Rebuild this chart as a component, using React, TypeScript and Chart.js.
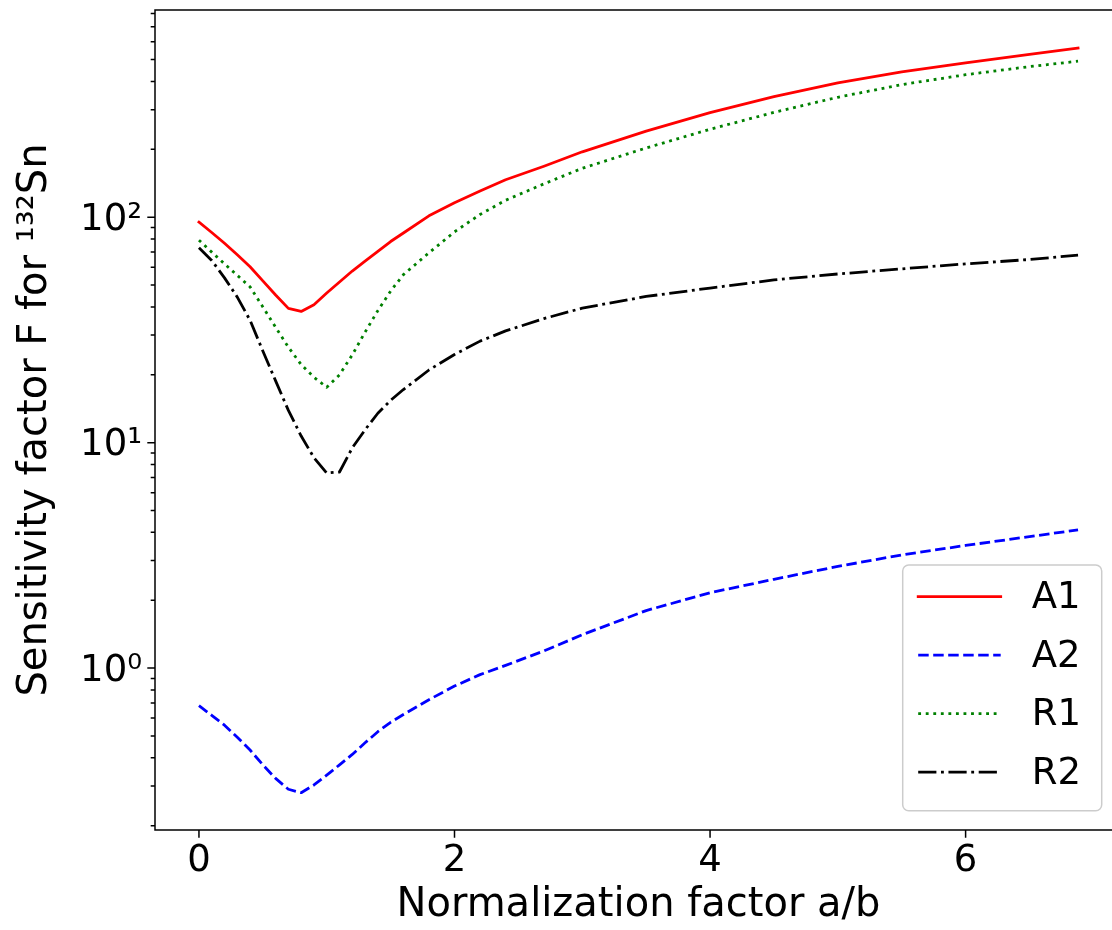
import React, { useEffect, useRef } from "react";
import { Chart, registerables } from "chart.js";

Chart.register(...registerables);

// ---------- data ----------
const xValues = [
  0, 0.1, 0.2, 0.3, 0.4, 0.5, 0.6, 0.7, 0.8, 0.9, 1.0, 1.1, 1.2, 1.3, 1.4, 1.5,
  1.6, 1.8, 2.0, 2.2, 2.4, 2.7, 3.0, 3.5, 4.0, 4.5, 5.0, 5.5, 6.0, 6.5, 6.88,
];

const seriesA1 = [
  95.1, 85.5, 76.6, 68.1, 60.3, 52.2, 45.2, 39.4, 38.2, 40.9, 46.1, 51.6, 57.7, 63.8, 70.5, 78.0,
  85.1, 101.4, 115.9, 130.6, 146.6, 168.3, 195.0, 241.0, 291.1, 342.8, 394.5, 441.6, 484.2, 527.2, 562.3,
];

const seriesA2 = [
  0.681, 0.617, 0.558, 0.493, 0.433, 0.372, 0.324, 0.29, 0.28, 0.303, 0.335, 0.372, 0.414, 0.466, 0.522, 0.575,
  0.622, 0.724, 0.832, 0.935, 1.028, 1.191, 1.406, 1.799, 2.158, 2.477, 2.825, 3.177, 3.499, 3.828, 4.102,
];

const seriesR1 = [
  79.1, 70.0, 62.1, 55.2, 49.1, 40.0, 32.5, 26.5, 22.2, 19.5, 17.6, 20.0, 24.5, 30.9, 38.5, 47.0,
  55.6, 69.5, 86.1, 102.8, 118.9, 140.6, 164.8, 202.8, 245.5, 291.7, 340.4, 387.3, 428.5, 465.6, 492.0,
];

const seriesR2 = [
  73.1, 64.3, 53.8, 44.2, 34.9, 25.5, 18.8, 13.9, 10.7, 8.57, 7.33, 7.41, 9.48, 11.4, 13.5, 15.4,
  17.2, 21.0, 24.6, 28.2, 31.3, 35.5, 39.5, 44.5, 48.5, 52.7, 56.0, 59.0, 62.1, 64.9, 67.9,
];

const seriesLabels = ["A1", "A2", "R1", "R2"];

const xTickValues = [0, 2, 4, 6];
const xTickLabels = ["0", "2", "4", "6"];
const yMajorTicks = [1, 10, 100];
const yTickLabels = ["10\u2070", "10\u00B9", "10\u00B2"];

const xAxisTitle = "Normalization factor a/b";
const yAxisTitle = "Sensitivity factor F for \u00B9\u00B3\u00B2Sn";

// ---------- axis ranges ----------
const X_MIN = -0.344;
const X_MAX = 7.224;
const Y_MIN = 0.1913;
const Y_MAX = 830;

const FONT = "DejaVu Sans";

function buildLogTicks(): number[] {
  const vals: number[] = [];
  for (let d = -1; d <= 2; d++) {
    for (let m = 1; m <= 9; m++) {
      const v = Number((m * Math.pow(10, d)).toPrecision(3));
      if (v >= Y_MIN && v <= Y_MAX) vals.push(v);
    }
  }
  return vals;
}

const yTickValues = buildLogTicks();

const framePlugin = {
  id: "frameAndTicks",
  afterDraw(chart: any) {
    const { ctx, chartArea } = chart;
    const { left, top, right, bottom } = chartArea;
    const xs = chart.scales.x;
    const ys = chart.scales.y;
    ctx.save();
    ctx.strokeStyle = "#000";
    ctx.lineWidth = 1.5;
    ctx.setLineDash([]);
    ctx.lineCap = "butt";
    ctx.beginPath();
    ys.ticks.forEach((t: any) => {
      const py = ys.getPixelForValue(t.value);
      const len = yMajorTicks.includes(t.value) ? 7.7 : 4.3;
      ctx.moveTo(left - len, py);
      ctx.lineTo(left, py);
    });
    xs.ticks.forEach((t: any) => {
      const px = xs.getPixelForValue(t.value);
      ctx.moveTo(px, bottom);
      ctx.lineTo(px, bottom + 7.7);
    });
    // spines: left, top, bottom (the right spine lies outside the crop)
    ctx.moveTo(left, bottom + 0.75);
    ctx.lineTo(left, top - 0.75);
    ctx.moveTo(left - 0.75, top);
    ctx.lineTo(right, top);
    ctx.moveTo(left - 0.75, bottom);
    ctx.lineTo(right, bottom);
    ctx.stroke();
    ctx.restore();

    // legend (lower right, inside axes)
    const boxW = 199;
    const boxH = 245.7;
    const boxRight = right - 20.3;
    const boxBottom = bottom - 19.3;
    const bx = boxRight - boxW;
    const by = boxBottom - boxH;
    ctx.save();
    ctx.beginPath();
    (ctx as any).roundRect(bx, by, boxW, boxH, 6);
    ctx.fillStyle = "rgba(255,255,255,0.8)";
    ctx.fill();
    ctx.strokeStyle = "#cccccc";
    ctx.lineWidth = 1.5;
    ctx.stroke();
    chart.data.datasets.forEach((ds: any, i: number) => {
      const rowY = by + 31.7 + i * 58.5;
      ctx.beginPath();
      ctx.setLineDash(ds.borderDash || []);
      ctx.strokeStyle = ds.borderColor;
      ctx.lineWidth = ds.borderWidth;
      ctx.lineCap = ds.borderCapStyle || "butt";
      ctx.moveTo(bx + 15.5, rowY);
      ctx.lineTo(bx + 98, rowY);
      ctx.stroke();
      ctx.setLineDash([]);
      ctx.fillStyle = "#000";
      ctx.font = `37px "${FONT}"`;
      ctx.textAlign = "left";
      ctx.textBaseline = "middle";
      ctx.fillText(ds.label, bx + 129, rowY + 2);
    });
    ctx.restore();
  },
};

export default function App() {
  const canvasRef = useRef<HTMLCanvasElement | null>(null);

  useEffect(() => {
    const canvas = canvasRef.current;
    if (!canvas) return;
    const series = [seriesA1, seriesA2, seriesR1, seriesR2];
    const colors = ["#ff0000", "#0000ff", "#008000", "#000000"];
    const dashes = [[], [10.5, 4.5], [2.85, 4.7], [18.2, 4.6, 2.85, 4.6]];
    const caps = ["square", "butt", "butt", "butt"];
    const datasets = series.map((s, i) => ({
      label: seriesLabels[i],
      data: xValues.map((x, j) => ({ x, y: s[j] })),
      borderColor: colors[i],
      backgroundColor: colors[i],
      borderWidth: 2.8,
      borderDash: dashes[i],
      borderCapStyle: caps[i],
      borderJoinStyle: "round",
      pointRadius: 0,
      tension: 0,
      fill: false,
    }));

    const chart = new Chart(canvas, {
      type: "line",
      data: { datasets } as any,
      options: {
        animation: false,
        responsive: false,
        devicePixelRatio: 1,
        layout: { padding: { top: 10, right: 0, bottom: 0, left: 0 } },
        plugins: {
          legend: { display: false },
          tooltip: { enabled: false },
        },
        scales: {
          x: {
            type: "linear",
            position: "bottom",
            min: X_MIN,
            max: X_MAX,
            afterBuildTicks: (s: any) => {
              s.ticks = xTickValues.map((v) => ({ value: v }));
            },
            afterFit: (s: any) => {
              s.height = 100;
              s.paddingLeft = 0;
              s.paddingRight = 0;
            },
            grid: { display: false, drawTicks: false },
            border: { display: false },
            ticks: {
              color: "#000",
              font: { family: FONT, size: 37, lineHeight: 1.2 },
              padding: 9,
              maxRotation: 0,
              autoSkip: false,
              callback: (v: any) => {
                const idx = xTickValues.indexOf(Number(v));
                return idx >= 0 ? xTickLabels[idx] : "";
              },
            },
            title: {
              display: true,
              text: xAxisTitle,
              color: "#000",
              font: { family: FONT, size: 40, lineHeight: 1.2 },
              padding: { top: 0, bottom: 0 },
            },
          },
          y: {
            type: "logarithmic",
            position: "left",
            min: Y_MIN,
            max: Y_MAX,
            afterBuildTicks: (s: any) => {
              s.ticks = yTickValues.map((v) => ({ value: v, major: yMajorTicks.includes(v) }));
            },
            afterFit: (s: any) => {
              s.width = 155;
              s.paddingTop = 0;
              s.paddingBottom = 0;
            },
            grid: { display: false, drawTicks: false },
            border: { display: false },
            ticks: {
              color: "#000",
              font: { family: FONT, size: 37, lineHeight: 1.2 },
              padding: 13,
              labelOffset: 3,
              autoSkip: false,
              callback: (v: any) => {
                const idx = yMajorTicks.indexOf(Number(v));
                return idx >= 0 ? yTickLabels[idx] : "";
              },
            },
            title: {
              display: true,
              text: yAxisTitle,
              color: "#000",
              font: { family: FONT, size: 40, lineHeight: 1.2 },
              padding: { top: 12, bottom: 0 },
            },
          },
        },
      } as any,
      plugins: [framePlugin],
    });

    return () => {
      chart.destroy();
    };
  }, []);

  return (
    <div
      style={{
        position: "absolute",
        left: 0,
        top: 0,
        width: 1112,
        height: 930,
        overflow: "hidden",
        background: "#fff",
      }}
    >
      <canvas ref={canvasRef} width={1122} height={930} style={{ display: "block" }} />
    </div>
  );
}
